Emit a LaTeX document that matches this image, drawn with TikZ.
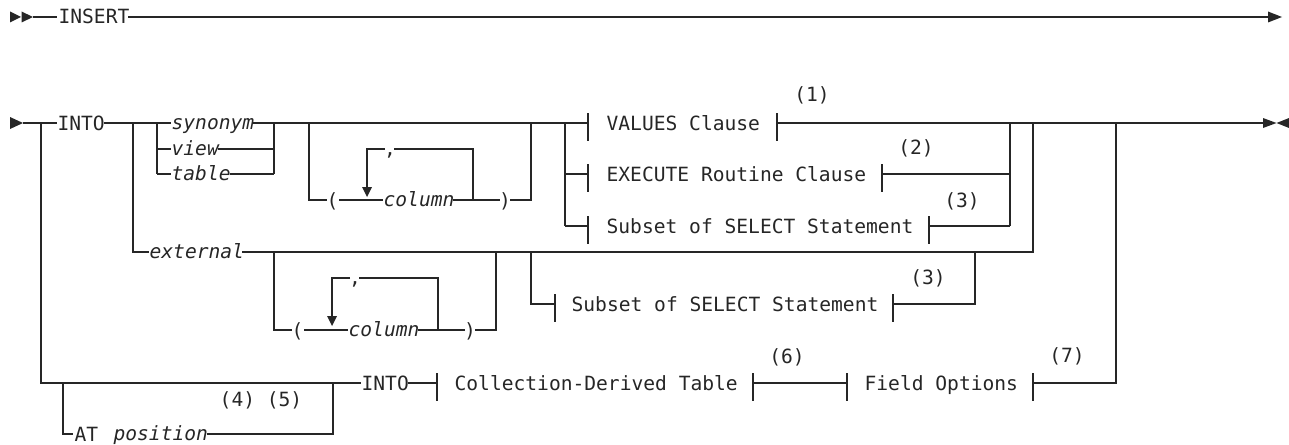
\documentclass[tikz,border=0pt]{standalone}
\usepackage{fontspec}
\newfontfamily\dmono{DejaVu Sans Mono}
\begin{document}
\begin{tikzpicture}[x=1pt,y=-1pt, line width=1.2pt, draw=black!85,
  txt/.style={font=\dmono\fontsize{19.6}{22}\selectfont, inner sep=0pt, anchor=base west, text=black!85},
  itxt/.style={txt, font=\dmono\itshape\fontsize{19.6}{22}\selectfont},
  lbl/.style={txt, anchor=base},
  tipfill/.style={fill=black!85, draw=none}]
\useasboundingbox (0,0) rectangle (1289,444);

% ---------- row 1 ----------
\fill[tipfill] (10,11.5) -- (21,17) -- (10,22.5) -- cycle;
\fill[tipfill] (21.5,11.5) -- (33,17) -- (21.5,22.5) -- cycle;
\node[txt] (insert) at (58,24) {INSERT};
\draw (33,17) -- (57,17);
\draw (128,17) -- (1268,17);
\fill[tipfill] (1268,11.5) -- (1282,17) -- (1268,22.5) -- cycle;

% ---------- row 2 ----------
\fill[tipfill] (10,117) -- (23,123) -- (10,129) -- cycle;
\node[txt] (into1) at (57,130) {INTO};
\draw (23,123) -- (57,123);
\draw (103.5,123) -- (171,123);
\node[itxt] (syn) at (171,129) {synonym};
\node[itxt] (view) at (171,155) {view};
\node[itxt] (table) at (171,180) {table};
\draw (157,123) -- (157,174);
\draw (157,149) -- (171,149);
\draw (157,174) -- (171,174);
\draw (218,149) -- (274,149);
\draw (229.5,174) -- (274,174);
\draw (274,123) -- (274,174);
\draw (253,123) -- (588,123);

% upper column group
\draw (309,123) -- (309,200) -- (327,200);
\node[txt,anchor=base] (lp1) at (332.5,207) {(};
\draw (339,200) -- (383,200);
\node[itxt] (col1) at (383,206) {column};
\draw (453,200) -- (500,200);
\node[txt,anchor=base] (rp1) at (505,207) {)};
\draw (510,200) -- (531,200) -- (531,123);
\draw (473,200) -- (473,149) -- (394,149);
\node[txt,anchor=base] (cm1) at (390,155) {,};
\draw (385,149) -- (367,149) -- (367,188);
\fill[tipfill] (362,187) -- (372,187) -- (367,197) -- cycle;

% VALUES / EXECUTE / Subset
\draw (565,123) -- (565,226);
\draw (565,174) -- (588,174);
\draw (565,226) -- (588,226);
\node[txt] (values) at (606,130) {VALUES Clause};
\node[txt] (exec) at (606,181) {EXECUTE Routine Clause};
\node[txt] (sub1) at (606,233) {Subset of SELECT Statement};
\foreach \x/\y in {588/123, 588/174, 588/226, 777/123, 882/174, 929/226,
                   555/304, 893/304, 437/383, 753/383, 847/383, 1033/383}
  \draw (\x,\y-10) -- (\x,\y+18);
\draw (777,123) -- (1263,123);
\draw (882,174) -- (1010,174);
\draw (929,226) -- (1010,226);
\draw (1010,123) -- (1010,226);
\node[lbl] (n1) at (812,101) {(1)};
\node[lbl] (n2) at (916,154) {(2)};
\node[lbl] (n3a) at (962,207) {(3)};

% ---------- external row ----------
\draw (133,123) -- (133,252) -- (149,252);
\node[itxt] (ext) at (149,258) {external};
\draw (242,252) -- (1033,252) -- (1033,123);

% lower column group
\draw (274,252) -- (274,330) -- (292,330);
\node[txt,anchor=base] (lp2) at (297.5,337) {(};
\draw (304,330) -- (348,330);
\node[itxt] (col2) at (348,336) {column};
\draw (418,330) -- (465,330);
\node[txt,anchor=base] (rp2) at (470,337) {)};
\draw (475,330) -- (496,330) -- (496,252);
\draw (438,330) -- (438,278) -- (359,278);
\node[txt,anchor=base] (cm2) at (355,284) {,};
\draw (350,278) -- (332,278) -- (332,317);
\fill[tipfill] (327,316) -- (337,316) -- (332,326) -- cycle;

% second Subset
\draw (531,252) -- (531,304) -- (555,304);
\node[txt] (sub2) at (571,311) {Subset of SELECT Statement};
\draw (893,304) -- (975,304) -- (975,252);
\node[lbl] (n3b) at (928,284) {(3)};

% ---------- bottom row ----------
\draw (41,123) -- (41,383) -- (361,383);
\draw (63,383) -- (63,434) -- (73,434);
\node[txt] (at) at (74,441) {AT};
\node[itxt] (pos) at (113,440) {position};
\draw (207,434) -- (333,434) -- (333,383);
\node[lbl] (n45) at (261,406) {(4) (5)};
\node[txt] (into2) at (361,390) {INTO};
\draw (407.5,383) -- (437,383);
\node[txt] (cdt) at (454,390) {Collection-Derived Table};
\draw (753,383) -- (847,383);
\node[lbl] (n6) at (787,363) {(6)};
\node[txt] (fo) at (864,390) {Field Options};
\draw (1033,383) -- (1116,383) -- (1116,123);
\node[lbl] (n7) at (1067,362) {(7)};

% end marks
\fill[tipfill] (1263,118) -- (1276.5,123) -- (1263,128) -- cycle;
\fill[tipfill] (1289,118) -- (1276.5,123) -- (1289,128) -- cycle;
\end{tikzpicture}
\end{document}
